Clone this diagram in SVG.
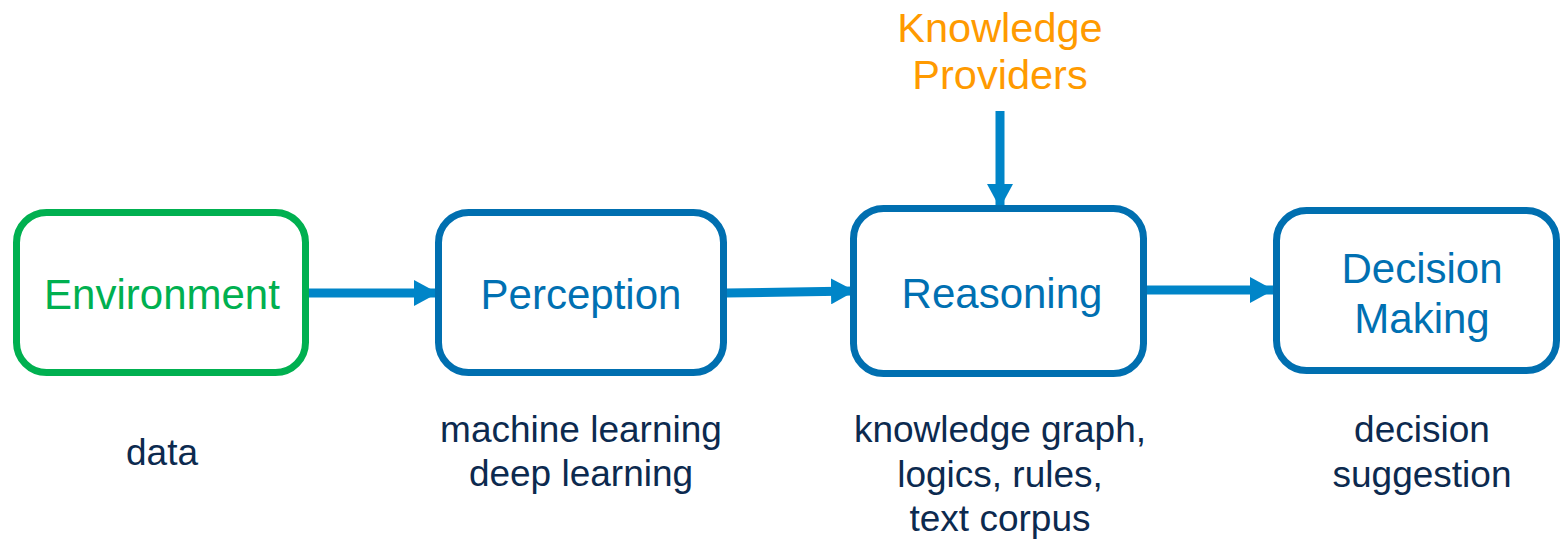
<svg xmlns="http://www.w3.org/2000/svg" width="1562" height="539" viewBox="0 0 1562 539">
  <style>
    text { font-family: "Liberation Sans", Arial, sans-serif; text-anchor: middle; }
    .box { fill: #ffffff; stroke: #006FB0; stroke-width: 7; }
    .env { stroke: #00B050; }
    .title { font-size: 42px; fill: #0070B2; }
    .envt { fill: #00B050; }
    .kp { font-size: 41.5px; fill: #FF9A00; }
    .note { font-size: 37px; fill: #0C2A4F; }
    .conn { stroke: #0085C8; stroke-width: 9; fill: none; }
  </style>
  <defs>
    <marker id="head" viewBox="0 0 24 26" refX="23" refY="13" markerWidth="24" markerHeight="26" markerUnits="userSpaceOnUse" orient="auto">
      <path d="M0,0 L24,13 L0,26 Z" fill="#0085C8"/>
    </marker>
  </defs>

  <!-- connectors -->
  <g id="connectors">
    <line class="conn" x1="307" y1="293" x2="437" y2="293" marker-end="url(#head)"/>
    <line class="conn" x1="726" y1="293" x2="854" y2="291" marker-end="url(#head)"/>
    <line class="conn" x1="1000" y1="111" x2="1000" y2="207" marker-end="url(#head)"/>
    <line class="conn" x1="1146" y1="290" x2="1273" y2="290" marker-end="url(#head)"/>
  </g>

  <g id="knowledge-providers">
    <text class="kp" x="1000" y="42">Knowledge</text>
    <text class="kp" x="1000" y="89">Providers</text>
  </g>

  <g id="environment">
    <rect class="box env" x="16.5" y="212.5" width="289" height="160" rx="30"/>
    <text class="title envt" x="162" y="309">Environment</text>
    <text class="note" x="162" y="465">data</text>
  </g>

  <g id="perception">
    <rect class="box" x="438.5" y="212.5" width="285" height="160" rx="30"/>
    <text class="title" x="581" y="309">Perception</text>
    <text class="note" x="581" y="442">machine learning</text>
    <text class="note" x="581" y="486">deep learning</text>
  </g>

  <g id="reasoning">
    <rect class="box" x="853.5" y="208.5" width="290" height="165" rx="30"/>
    <text class="title" x="1002" y="308">Reasoning</text>
    <text class="note" x="1000" y="442">knowledge graph,</text>
    <text class="note" x="1000" y="487">logics, rules,</text>
    <text class="note" x="1000" y="531">text corpus</text>
  </g>

  <g id="decision-making">
    <rect class="box" x="1276.5" y="210.5" width="280" height="160" rx="30"/>
    <text class="title" x="1422" y="283">Decision</text>
    <text class="title" x="1422" y="333">Making</text>
    <text class="note" x="1422" y="442">decision</text>
    <text class="note" x="1422" y="487">suggestion</text>
  </g>
</svg>
